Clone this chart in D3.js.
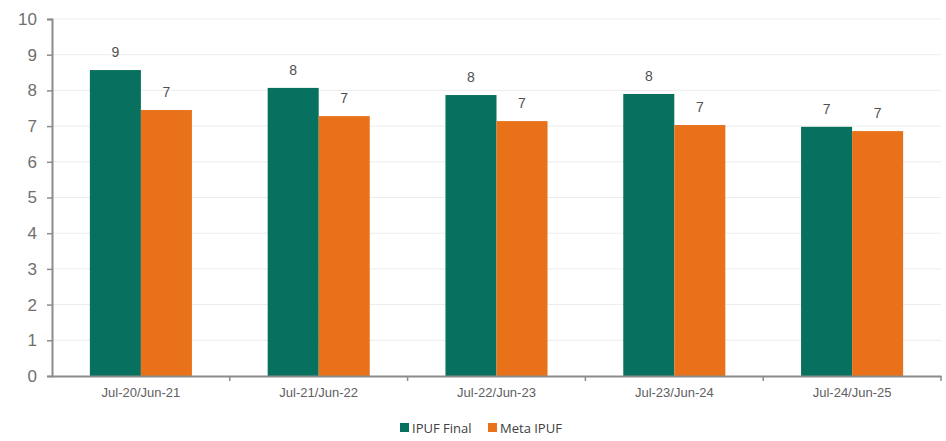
<!DOCTYPE html>
<html><head><meta charset="utf-8">
<script src="https://cdn.jsdelivr.net/npm/d3@7"></script>
<style>body{margin:0;background:#fff}svg{display:block}</style>
</head><body><svg id="c" width="946" height="441"></svg>
<script>
const categories = ["Jul-20/Jun-21","Jul-21/Jun-22","Jul-22/Jun-23","Jul-23/Jun-24","Jul-24/Jun-25"];
const seriesNames = ["IPUF Final","Meta IPUF"];
const ipufFinal = [8.57, 8.07, 7.87, 7.9, 6.98];
const metaIpuf = [7.45, 7.28, 7.14, 7.03, 6.86];
const yTicks = [0,1,2,3,4,5,6,7,8,9,10];
const colors = ["#08705f","#e8711a"];

const svg = d3.select("#c");
const m = {l:52, r:5, t:19, b:65};
const W = 946, H = 441;
const x = d3.scaleBand().domain(categories).range([m.l, W - m.r]).paddingInner(0.426).paddingOuter(0.213);
const xs = d3.scaleBand().domain(seriesNames).range([0, x.bandwidth()]);
const y = d3.scaleLinear().domain([0,10]).range([H - m.b, m.t]);

// gridlines
svg.append("g").selectAll("line").data(yTicks.filter(d=>d>0)).join("line")
  .attr("x1", m.l).attr("x2", W - m.r).attr("y1", d=>y(d)).attr("y2", d=>y(d))
  .attr("stroke","#ececec").attr("stroke-width",1);

const data = categories.map((c,i)=>({c, vals:[ipufFinal[i], metaIpuf[i]]}));
const g = svg.append("g").selectAll("g").data(data).join("g")
  .attr("transform", d=>`translate(${x(d.c)},0)`);
g.selectAll("rect").data(d=>d.vals.map((v,j)=>({v, s:seriesNames[j], j}))).join("rect")
  .attr("x", d=>xs(d.s)).attr("width", xs.bandwidth())
  .attr("y", d=>y(d.v)).attr("height", d=>y(0)-y(d.v))
  .attr("fill", d=>colors[d.j]);
g.selectAll("text").data(d=>d.vals.map((v,j)=>({v, s:seriesNames[j], j}))).join("text")
  .attr("x", d=>xs(d.s)+xs.bandwidth()/2).attr("y", d=>y(d.v)-13)
  .attr("text-anchor","middle").attr("font-family","Liberation Sans, Arial, sans-serif")
  .attr("font-size",14).attr("fill","#505050").text(d=>Math.round(d.v));

// y axis
const ya = svg.append("g").attr("transform",`translate(${m.l},0)`)
  .call(d3.axisLeft(y).tickValues(yTicks).tickSize(5).tickPadding(10).tickFormat(d3.format("d")));
ya.select(".domain").attr("stroke","#8c8c8c").attr("stroke-width",2);
ya.selectAll(".tick line").attr("stroke","#8c8c8c").attr("stroke-width",1.5);
ya.selectAll("text").attr("font-family","Liberation Sans, Arial, sans-serif").attr("font-size",17).attr("fill","#6f6f6f");

// x axis
const step = x.step();
const bounds = d3.range(categories.length+1).map(i=>m.l + i*step);
const xa = svg.append("g").attr("transform",`translate(0,${y(0)})`)
  .call(d3.axisBottom(x).tickSize(0).tickPadding(12));
xa.select(".domain").attr("stroke","#8c8c8c").attr("stroke-width",2);
xa.selectAll("text").attr("font-family","Liberation Sans, Arial, sans-serif").attr("font-size",13).attr("fill","#606060");
xa.append("g").selectAll("line").data(bounds.slice(1)).join("line")
  .attr("x1",d=>d).attr("x2",d=>d).attr("y1",0).attr("y2",5)
  .attr("stroke","#8c8c8c").attr("stroke-width",1.5);

// legend
const lg = svg.append("g").attr("transform","translate(400,433)");
const items = [{n:seriesNames[0], c:colors[0], x:0},{n:seriesNames[1], c:colors[1], x:88}];
const li = lg.selectAll("g").data(items).join("g").attr("transform",d=>`translate(${d.x},0)`);
li.append("rect").attr("x",0).attr("y",-10).attr("width",9).attr("height",9).attr("fill",d=>d.c);
li.append("text").attr("x",12).attr("y",0).attr("font-family","Open Sans, Liberation Sans, sans-serif")
  .attr("font-size",13).attr("fill","#404040").text(d=>d.n);
</script></body></html>
